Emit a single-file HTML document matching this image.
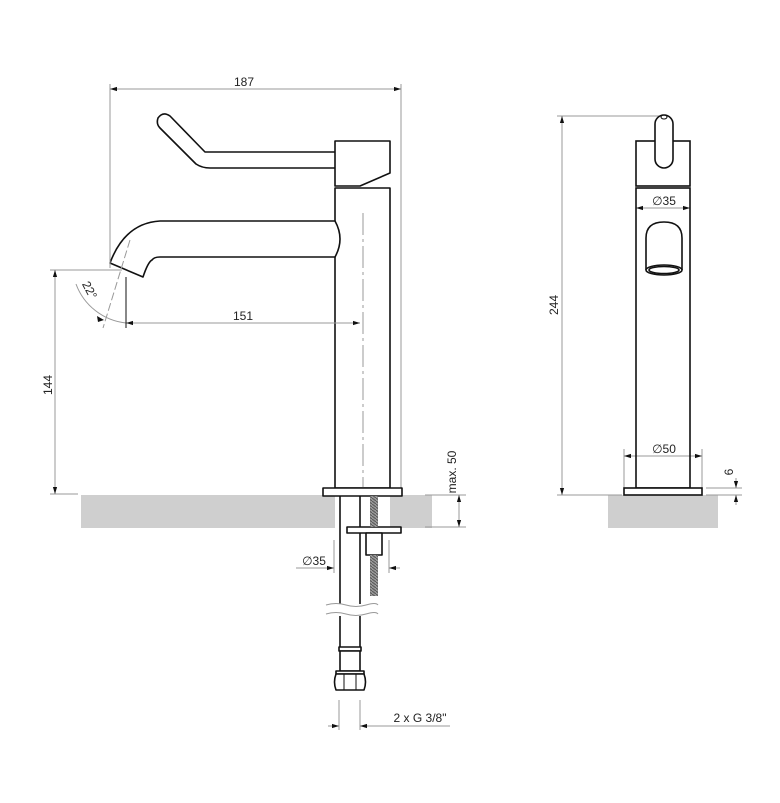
<!DOCTYPE html>
<html><head><meta charset="utf-8"><style>
html,body{margin:0;padding:0;background:#fff}
svg{display:block}
text{font-family:"Liberation Sans",sans-serif;font-size:12px;fill:#222}
</style></head><body>
<svg width="780" height="803" viewBox="0 0 780 803" xmlns="http://www.w3.org/2000/svg">
<defs>
<marker id="a" viewBox="0 0 10 10" refX="10" refY="5" markerWidth="7" markerHeight="7" orient="auto-start-reverse"><path d="M0,2 L10,5 L0,8 z" fill="#111"/></marker>
<pattern id="thr" width="4" height="3" patternUnits="userSpaceOnUse"><rect width="4" height="3" fill="#999"/><path d="M0,0 L4,3" stroke="#555" stroke-width="1"/></pattern>
</defs>
<rect x="81" y="495" width="254" height="33" fill="#cfcfcf"/>
<rect x="390" y="495" width="42" height="33" fill="#cfcfcf"/>
<rect x="608" y="495" width="110" height="33" fill="#cfcfcf"/>

<g stroke="#111" stroke-width="1.6" fill="#fff" stroke-linejoin="round">
<path d="M335,152 L205,152 L170,116 Q163,111 158,118 Q156,124 160,128 L196,164 Q202,168 210,168 L335,168"/>
<path d="M335,141 L390,141 L390,173 L360,186 L335,186 Z"/>
<rect x="335" y="188" width="55" height="300" fill="none"/>
<path d="M335,221 L160,221 Q125,223 110,263 L143,277 Q148,262 152,260 Q154,257 160,257 L335,257 Q345,239 335,221 Z"/>
</g>

<g stroke="#999" stroke-width="1" fill="none">
<line x1="110" y1="84" x2="110" y2="268"/><line x1="401" y1="84" x2="401" y2="492"/>
<line x1="110" y1="89" x2="401" y2="89" marker-start="url(#a)" marker-end="url(#a)"/>
<line x1="126" y1="323" x2="360" y2="323" marker-start="url(#a)" marker-end="url(#a)"/>
<line x1="50" y1="270" x2="122" y2="270"/><line x1="50" y1="494" x2="78" y2="494"/>
<line x1="55" y1="270" x2="55" y2="494" marker-start="url(#a)" marker-end="url(#a)"/>
<path d="M76,284 A60,60 0 0 0 126,323"/>
<line x1="130" y1="240" x2="103" y2="328" stroke-dasharray="8,3"/>
<line x1="425" y1="495" x2="466" y2="495"/><line x1="425" y1="527" x2="466" y2="527"/>
<line x1="459" y1="495" x2="459" y2="527" marker-start="url(#a)" marker-end="url(#a)"/>
<line x1="334" y1="540" x2="334" y2="573"/><line x1="389" y1="540" x2="389" y2="573"/>
<line x1="296" y1="568" x2="334" y2="568" marker-end="url(#a)"/>
<line x1="400" y1="568" x2="389" y2="568" marker-end="url(#a)"/>
<line x1="339" y1="700" x2="339" y2="730"/><line x1="360" y1="700" x2="360" y2="730"/>
<line x1="328" y1="726" x2="339" y2="726" marker-end="url(#a)"/>
<line x1="450" y1="726" x2="360" y2="726" marker-end="url(#a)"/>
<line x1="557" y1="116" x2="662" y2="116"/><line x1="557" y1="495" x2="622" y2="495"/>
<line x1="562" y1="116" x2="562" y2="495" marker-start="url(#a)" marker-end="url(#a)"/>
<line x1="636" y1="208" x2="690" y2="208" marker-start="url(#a)" marker-end="url(#a)"/>
<line x1="624" y1="449" x2="624" y2="490"/><line x1="702" y1="449" x2="702" y2="490"/>
<line x1="624" y1="456" x2="702" y2="456" marker-start="url(#a)" marker-end="url(#a)"/>
<line x1="706" y1="488" x2="742" y2="488"/><line x1="706" y1="495" x2="742" y2="495"/>
<line x1="736" y1="478" x2="736" y2="488" marker-end="url(#a)"/>
<line x1="736" y1="505" x2="736" y2="495" marker-end="url(#a)"/>
<line x1="363" y1="213" x2="363" y2="492" stroke-dasharray="22,4,3,4"/>
</g>
<path d="M104,320 l-7,-4 l1,6z" fill="#111"/>
<line x1="126" y1="277" x2="126" y2="328" stroke="#111" stroke-width="1"/>

<g stroke="#111" stroke-width="1.6" fill="#fff" stroke-linejoin="round">
<rect x="323" y="488" width="79" height="8"/>
<line x1="340" y1="496" x2="340" y2="647"/><line x1="360" y1="496" x2="360" y2="647"/>
<rect x="347" y="527" width="54" height="6"/>
<rect x="366" y="533" width="16" height="22"/>
<rect x="339" y="647" width="22" height="4"/>
<rect x="340" y="651" width="20" height="20"/>
<rect x="336" y="671" width="28" height="3"/>
<path d="M336,674 L364,674 Q367,682 364,690 L336,690 Q333,682 336,674 Z"/>
<line x1="344" y1="674" x2="344" y2="690" stroke-width="1"/><line x1="356" y1="674" x2="356" y2="690" stroke-width="1"/>
</g>
<rect x="370" y="496" width="8" height="31" fill="url(#thr)"/>
<rect x="370" y="555" width="8" height="41" fill="url(#thr)"/>
<rect x="334" y="604" width="32" height="12" fill="#fff"/>
<g stroke="#999" fill="none"><path d="M326,605 q10,-3 20,0 t20,0 t12,0"/><path d="M326,614 q10,-3 20,0 t20,0 t12,0"/></g>

<g stroke="#111" stroke-width="1.6" fill="#fff">
<rect x="636" y="141" width="54" height="45"/>
<rect x="636" y="188" width="54" height="300" fill="none"/>
<rect x="655" y="115" width="18" height="53" rx="9"/>
<path d="M646,270 L646,238 Q646,222 664,222 Q682,222 682,238 L682,270"/>
<ellipse cx="664" cy="270" rx="18" ry="5"/>
<ellipse cx="664" cy="270" rx="15" ry="3.5"/>
<rect x="624" y="488" width="78" height="7"/>
</g>
<ellipse cx="664" cy="117" rx="3" ry="2" fill="none" stroke="#111"/>

<text x="244" y="86" text-anchor="middle">187</text>
<text x="243" y="320" text-anchor="middle">151</text>
<text transform="translate(52,385) rotate(-90)" text-anchor="middle">144</text>
<text transform="translate(86,292) rotate(62)" text-anchor="middle">22°</text>
<text transform="translate(456,472) rotate(-90)" text-anchor="middle">max. 50</text>
<text x="314" y="565" text-anchor="middle">∅35</text>
<text x="420" y="722" text-anchor="middle">2 x G 3/8"</text>
<text transform="translate(558,305) rotate(-90)" text-anchor="middle">244</text>
<text x="664" y="205" text-anchor="middle">∅35</text>
<text x="664" y="453" text-anchor="middle">∅50</text>
<text transform="translate(733,472) rotate(-90)" text-anchor="middle">6</text>
</svg>
</body></html>
